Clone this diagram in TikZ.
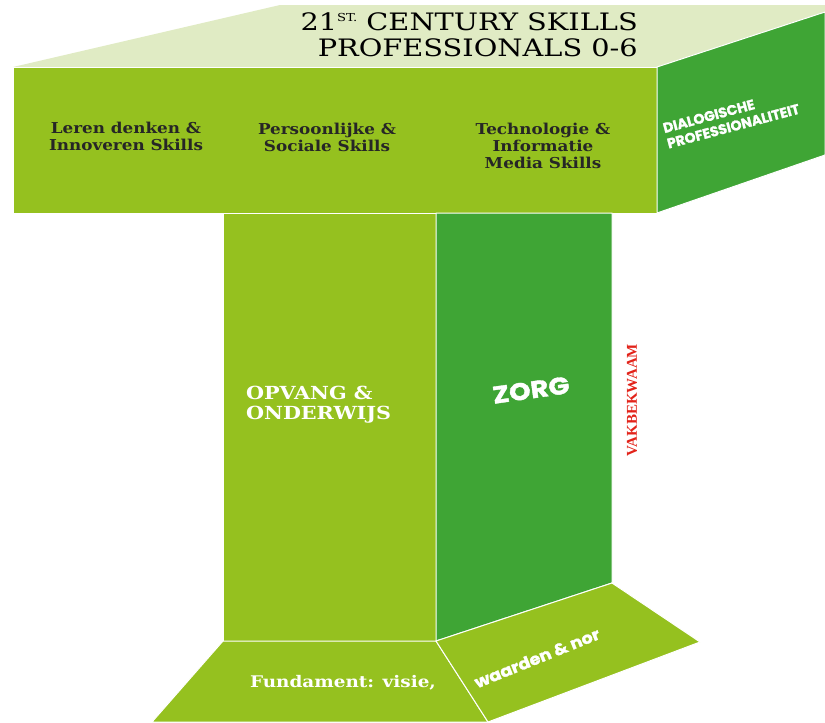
\documentclass[tikz,border=0pt]{standalone}
\usepackage{fontspec}
\setmainfont{DejaVu Serif}
\newfontfamily\heavyfont{Poppins}[BoldFeatures={FakeBold=1.5}]
\newfontfamily\condfont{Liberation Serif}
\definecolor{topgreen}{HTML}{E0EBC4}
\definecolor{limegreen}{HTML}{95C11F}
\definecolor{leafgreen}{HTML}{3FA535}
\definecolor{vakred}{HTML}{E2231A}

\begin{document}
\begin{tikzpicture}[x=1pt, y=-1pt,
    face/.style={draw=white, line width=1pt, line join=round},
    skill/.style={font=\fontsize{15}{17}\selectfont\bfseries, text=black!85, align=center, xscale=1.12},
    slabwhite/.style={font=\fontsize{18}{20}\selectfont\bfseries, text=white, xscale=1.15},
    heavywhite/.style={font=\heavyfont\bfseries, text=white}]
        \useasboundingbox (0,0) rectangle (825,723);
        \clip (0,0) rectangle (825,723);

        % Faces
        \fill[topgreen] (13,67) -- (280,5) -- (825,5) -- (825,12) -- (657,67) -- cycle;
        \filldraw[face, fill=limegreen] (13,67) rectangle (657,213);
        \filldraw[face, fill=leafgreen] (657,67) -- (825,12) -- (825,155) -- (657,213) -- cycle;
        \filldraw[face, fill=limegreen] (223,213) rectangle (436,641);
        \filldraw[face, fill=leafgreen] (436,213) -- (612,213) -- (612,583) -- (436,641) -- cycle;
        \filldraw[face, fill=limegreen] (223,641) -- (436,641) -- (488,722) -- (152,722) -- cycle;
        \filldraw[face, fill=limegreen] (436,641) -- (612,583) -- (700,642) -- (488,722) -- cycle;

        % Nodes
        \node (title) [anchor=east, align=right, xscale=1.2, font=\fontsize{24}{26}\selectfont] at (642,35)
            {21\raisebox{0.75ex}{\fontsize{11}{11}\selectfont ST.} CENTURY SKILLS\\PROFESSIONALS 0-6};
        \node (leren) [skill] at (126,136) {Leren denken \&\\Innoveren Skills};
        \node (sociaal) [skill] at (327,137) {Persoonlijke \&\\Sociale Skills};
        \node (techniek) [skill] at (543,146) {Technologie \&\\Informatie\\Media Skills};
        \node (dialoog) [heavywhite, anchor=west, align=left, rotate=15,
            font=\heavyfont\bfseries\fontsize{14}{16}\selectfont] at (662,137)
            {DIALOGISCHE\\PROFESSIONALITEIT};
        \node (opvang) [slabwhite, anchor=west, align=left] at (242,405) {OPVANG \&\\ONDERWIJS};
        \node (zorg) [heavywhite, rotate=8, xscale=1.15, font=\heavyfont\bfseries\fontsize{24}{26}\selectfont] at (531,390) {ZORG};
        \node (vak) [rotate=90, text=vakred, font=\condfont\bfseries\fontsize{15}{18}\selectfont] at (632,400) {VAKBEKWAAM};
        \node (fundament) [slabwhite, font=\fontsize{16}{18}\selectfont\bfseries] at (343,683) {Fundament: visie,};
        \node (waarden) [heavywhite, rotate=22, xscale=1.1, font=\heavyfont\bfseries\fontsize{16}{18}\selectfont] at (537,658) {waarden \& nor};
\end{tikzpicture}
\end{document}
